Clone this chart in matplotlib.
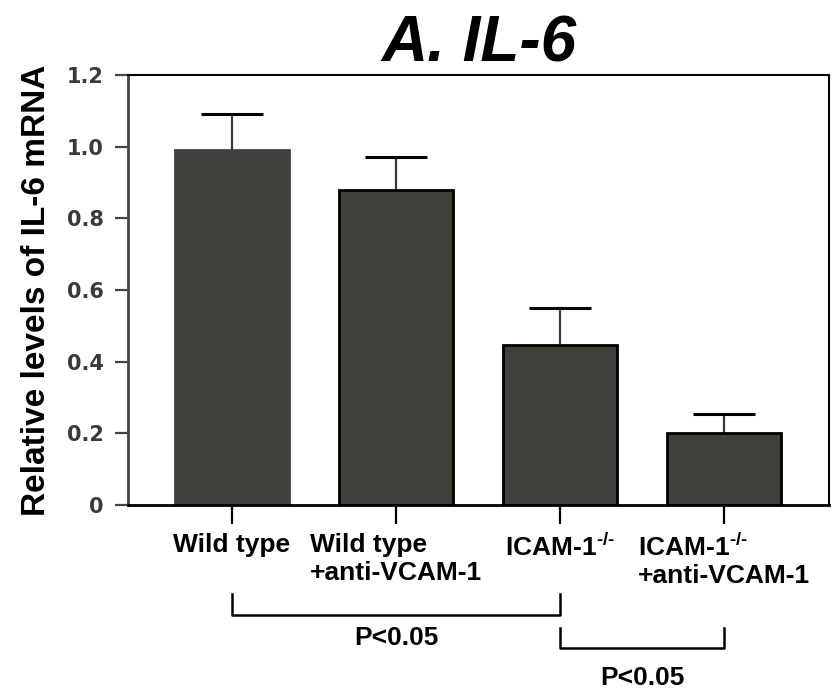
import numpy as np
import matplotlib
matplotlib.use("Agg")
import matplotlib.pyplot as plt
import matplotlib.transforms as mtransforms

plt.rcParams['font.family'] = ['Liberation Sans', 'DejaVu Sans']
plt.rcParams['font.weight'] = 'bold'
plt.rcParams['mathtext.fontset'] = 'custom'
plt.rcParams['mathtext.rm'] = 'Liberation Sans:bold'
plt.rcParams['mathtext.bf'] = 'Liberation Sans:bold'
plt.rcParams['mathtext.it'] = 'Liberation Sans:bold:italic'

# data
groups = ['Wild type', 'Wild type\n+anti-VCAM-1',
          r'ICAM-1$^{\text{-/-}}$', 'ICAM-1$^{\\text{-/-}}$\n+anti-VCAM-1']
il6 = [0.99, 0.88, 0.447, 0.20]
sem = [0.10, 0.092, 0.104, 0.054]
yticks = [0, 0.2, 0.4, 0.6, 0.8, 1.0, 1.2]
ytick_labels = ['0', '0.2', '0.4', '0.6', '0.8', '1.0', '1.2']
# significance brackets: (group i, group j, label)
pairs = [(0, 2, 'P<0.05'), (2, 3, 'P<0.05')]

bar_col = '#3f403a'
x = np.arange(len(il6))

fig = plt.figure(figsize=(8.32, 6.99), dpi=100)
ax = fig.add_axes([0.1538, 0.2775, 0.8426, 0.6152])

bars = ax.bar(x, il6, width=0.70, color=bar_col, edgecolor='black', linewidth=2, zorder=2)
bars[0].set_edgecolor(bar_col)
ax.errorbar(x, il6, yerr=[np.zeros(len(sem)), sem], fmt='none', ecolor='#3a3a3a',
            elinewidth=1.6, capsize=0, zorder=1)
# caps
for xi, v, e in zip(x, il6, sem):
    ax.plot([xi - 0.19, xi + 0.19], [v + e, v + e], color='black', lw=2.2, solid_capstyle='butt')

ax.set_xlim(-0.634, 3.64)
ax.set_ylim(0, 1.2)
ax.set_yticks(yticks)
# the tick numbers are wide in the original, DejaVu bold fits them better
ax.set_yticklabels(ytick_labels, fontsize=15, color='#3a3a36', family='DejaVu Sans')
ax.set_xticks(x)
ax.set_xticklabels(groups, fontsize=19, color='black')
for lab in ax.get_xticklabels():
    lab.set_multialignment('left')

ax.tick_params(axis='y', length=9.5, width=1.6, color='#444444', pad=8)
ax.tick_params(axis='x', length=13.5, width=1.6, color='black', pad=7)

ax.spines['left'].set_color('#444444')
ax.spines['left'].set_linewidth(2)
ax.spines['bottom'].set_linewidth(2)
ax.spines['top'].set_linewidth(1.5)
ax.spines['right'].set_linewidth(1.5)

ax.set_ylabel('Relative levels of IL-6 mRNA', fontsize=24, fontweight='bold', labelpad=11)
ax.set_title('A. IL-6', fontsize=46, fontstyle='italic', fontweight='bold', pad=10)

# significance brackets below the axis
trans = mtransforms.blended_transform_factory(ax.transData, ax.transAxes)
br_top = [-0.207, -0.286]
br_bot = [-0.256, -0.333]
txt_y = [-0.309, -0.402]
for (i, j, s), yt, yb, ty in zip(pairs, br_top, br_bot, txt_y):
    ax.plot([x[i], x[i], x[j], x[j]], [yt, yb, yb, yt], color='black', lw=1.8,
            transform=trans, clip_on=False)
    ax.text((x[i] + x[j]) / 2, ty, s, transform=trans, ha='center', va='center',
            fontsize=19)

fig.savefig('out.png', dpi=100)
